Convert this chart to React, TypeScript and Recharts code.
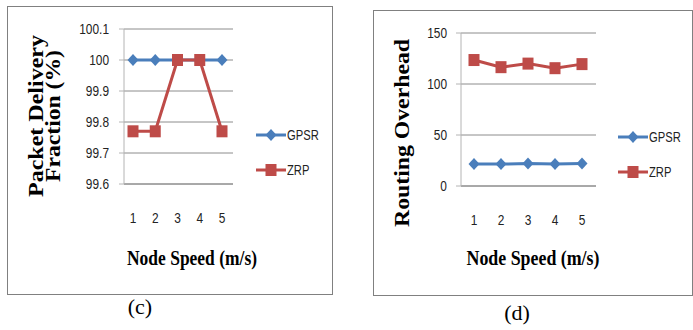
import React from 'react';
import { LineChart, Line, XAxis, YAxis, CartesianGrid, Legend } from 'recharts';

const speeds = ['1', '2', '3', '4', '5'];
const pdfGpsr = [100, 100, 100, 100, 100];
const pdfZrp = [99.77, 99.77, 100, 100, 99.77];
const overheadGpsr = [21.5, 21.5, 22, 21.5, 22];
const overheadZrp = [123.5, 116.5, 120, 115.5, 119.5];
const pdfTicks = [99.6, 99.7, 99.8, 99.9, 100, 100.1];
const overheadTicks = [0, 50, 100, 150];

const BLUE = '#4A7EBB';
const RED = '#BE4B48';
const GRID = '#8c8c8c';
const AXIS = '#b4b4b4';
const sans = '"Liberation Sans", Arial, sans-serif';
const serif = '"Liberation Serif", "Times New Roman", serif';

const pdfData = speeds.map((s, i) => ({ speed: s, GPSR: pdfGpsr[i], ZRP: pdfZrp[i] }));
const overheadData = speeds.map((s, i) => ({ speed: s, GPSR: overheadGpsr[i], ZRP: overheadZrp[i] }));

const Diamond = ({ cx, cy }: any) => (
  <path d={`M${cx},${cy - 6}L${cx + 5.5},${cy}L${cx},${cy + 6}L${cx - 5.5},${cy}Z`} fill={BLUE} />
);
const Square = ({ cx, cy }: any) => (
  <rect x={cx - 5.5} y={cy - 6} width={11} height={12} fill={RED} />
);

// ticks in the picture are a squeezed sans, so narrow them by hand
const NarrowTick = ({ x, y, payload, textAnchor, orientation }: any) => (
  <text transform={`translate(${x},${y}) scale(0.85,1)`} textAnchor={textAnchor}
    dy={orientation === 'bottom' ? '0.71em' : '0.355em'} fontFamily={sans} fontSize={14} fill="#222">
    {String(+Number(payload.value).toFixed(1))}
  </text>
);

function LegendBox() {
  const rows = [
    { name: 'GPSR', color: BLUE, Marker: Diamond },
    { name: 'ZRP', color: RED, Marker: Square },
  ];
  return (
    <div>
      {rows.map(({ name, color, Marker }) => (
        <div key={name} style={{ display: 'flex', alignItems: 'center', height: 20, marginBottom: 15 }}>
          <svg width={30} height={14}>
            <line x1={0} y1={7} x2={30} y2={7} stroke={color} strokeWidth={3} />
            <Marker cx={15} cy={7} />
          </svg>
          <span style={{ marginLeft: 1, fontFamily: sans, fontSize: 14, color: '#222', display: 'inline-block',
            transform: 'scaleX(0.8)', transformOrigin: 'left center' }}>{name}</span>
        </div>
      ))}
    </div>
  );
}

export default function App() {
  return (
    <div style={{ position: 'absolute', left: 0, top: 0, width: 693, height: 330, background: '#fff' }}>
      <div style={{ position: 'absolute', left: 7, top: 6, width: 326, height: 289, border: '1px solid #808080', boxSizing: 'border-box' }} />
      <div style={{ position: 'absolute', left: 373, top: 10, width: 320, height: 286, border: '1px solid #808080', boxSizing: 'border-box' }} />

      <div style={{ position: 'absolute', left: 0, top: 0 }}>
        <LineChart width={340} height={300} data={pdfData} margin={{ top: 29, right: 107, bottom: 86, left: 64 }}>
          <CartesianGrid vertical={false} stroke={GRID} />
          <XAxis dataKey="speed" height={30} padding={{ left: 9, right: 11 }} axisLine={{ stroke: GRID }}
            tickLine={false} tickSize={0} tickMargin={29} tick={<NarrowTick />} />
          <YAxis width={60} domain={[99.6, 100.1]} ticks={pdfTicks} interval={0}
            axisLine={{ stroke: AXIS }} tickLine={{ stroke: AXIS }} tickSize={5} tickMargin={10} tick={<NarrowTick />} />
          <Legend layout="horizontal" verticalAlign="middle" align="center" content={() => <LegendBox />}
            wrapperStyle={{ left: 256, top: 125, width: 80 }} />
          <Line dataKey="GPSR" stroke={BLUE} strokeWidth={3} dot={<Diamond />} activeDot={false} isAnimationActive={false} />
          <Line dataKey="ZRP" stroke={RED} strokeWidth={3} dot={<Square />} activeDot={false} isAnimationActive={false} />
        </LineChart>
      </div>

      <div style={{ position: 'absolute', left: 340, top: 0 }}>
        <LineChart width={353} height={300} data={overheadData} margin={{ top: 33, right: 97, bottom: 84, left: 61 }}>
          <CartesianGrid vertical={false} stroke={GRID} />
          <XAxis dataKey="speed" height={30} padding={{ left: 13, right: 14 }} axisLine={{ stroke: GRID }}
            tickLine={false} tickSize={0} tickMargin={29} tick={<NarrowTick />} />
          <YAxis width={60} domain={[0, 150]} ticks={overheadTicks} interval={0}
            axisLine={{ stroke: AXIS }} tickLine={{ stroke: AXIS }} tickSize={5} tickMargin={9} tick={<NarrowTick />} />
          <Legend layout="horizontal" verticalAlign="middle" align="center" content={() => <LegendBox />}
            wrapperStyle={{ left: 278, top: 127, width: 80 }} />
          <Line dataKey="GPSR" stroke={BLUE} strokeWidth={3} dot={<Diamond />} activeDot={false} isAnimationActive={false} />
          <Line dataKey="ZRP" stroke={RED} strokeWidth={3} dot={<Square />} activeDot={false} isAnimationActive={false} />
        </LineChart>
      </div>

      <svg width={693} height={330} style={{ position: 'absolute', left: 0, top: 0, pointerEvents: 'none' }}>
        <g fontFamily={serif} fontWeight="bold" fill="#000" textAnchor="middle">
          <text x={43} y={116} fontSize={20} transform="rotate(-90 43 116)" textLength={162} lengthAdjust="spacingAndGlyphs">Packet Delivery</text>
          <text x={60} y={116} fontSize={20} transform="rotate(-90 60 116)" textLength={132} lengthAdjust="spacingAndGlyphs">Fraction (%)</text>
          <text x={409} y={133} fontSize={20} transform="rotate(-90 409 133)" textLength={188} lengthAdjust="spacingAndGlyphs">Routing Overhead</text>
          <text x={192} y={265} fontSize={21} textLength={130} lengthAdjust="spacingAndGlyphs">Node Speed (m/s)</text>
          <text x={533} y={265} fontSize={21} textLength={133} lengthAdjust="spacingAndGlyphs">Node Speed (m/s)</text>
        </g>
        <g fontFamily={serif} fill="#000" textAnchor="middle" fontSize={22}>
          <text x={140} y={314}>(c)</text>
          <text x={517} y={320}>(d)</text>
        </g>
      </svg>
    </div>
  );
}
